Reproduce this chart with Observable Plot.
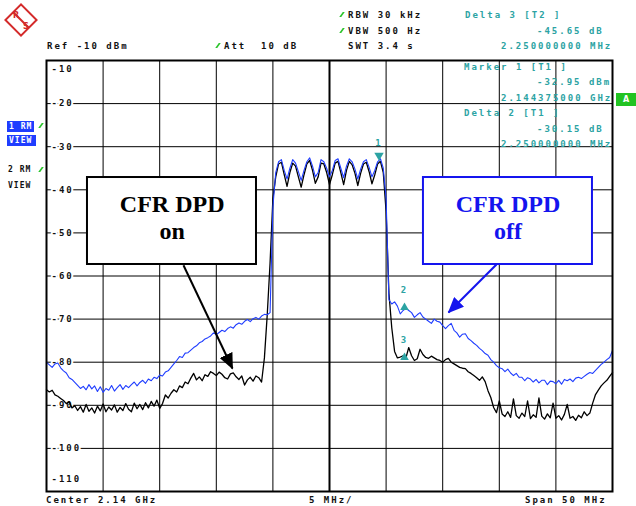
<!DOCTYPE html>
<html>
<head>
<meta charset="utf-8">
<script src="https://cdn.jsdelivr.net/npm/d3@7"></script>
<script src="https://cdn.jsdelivr.net/npm/@observablehq/plot@0.6"></script>
<style>
html,body{margin:0;padding:0;background:#fff;}
#wrap{position:relative;width:636px;height:506px;overflow:hidden;background:#fff;}
#wrap > svg{position:absolute;left:0;top:0;}
.t{position:absolute;font-family:"DejaVu Sans Mono",monospace;font-weight:bold;font-size:9px;letter-spacing:2px;line-height:10px;height:10px;white-space:pre;color:#111;}
.teal{color:#2ca3a3;}
.box{position:absolute;background:#1f3dff;color:#fff;padding-left:2px;font-size:8px;letter-spacing:1px;overflow:hidden;}
.gm{position:absolute;width:2px;height:5px;background:#2bc42b;transform:skewX(-35deg);}
.abox{position:absolute;background:#22c322;color:#fff;font-family:"DejaVu Sans",sans-serif;font-weight:bold;font-size:8px;text-align:center;line-height:13px;}
svg g[font-family="DejaVu Sans Mono"]{letter-spacing:2px;}
</style>
</head>
<body>
<div id="wrap">
  <svg style="position:absolute;left:3px;top:2px" width="36" height="36" viewBox="0 0 36 36">
    <g transform="translate(18,18) rotate(45)">
      <rect x="-11" y="-11" width="22" height="22" fill="none" stroke="#d42a2a" stroke-width="2"/>
      <line x1="-11" y1="0" x2="11" y2="0" stroke="#d42a2a" stroke-width="2"/>
    </g>
    <text x="13" y="16" fill="#d42a2a" font-family="DejaVu Sans" font-size="8" font-weight="bold" text-anchor="middle">R</text>
    <text x="23" y="27" fill="#d42a2a" font-family="DejaVu Sans" font-size="8" font-weight="bold" text-anchor="middle">S</text>
  </svg>

  <div class="t" style="left:47px;top:41px">Ref -10 dBm</div>
  <div class="gm" style="left:217px;top:43px"></div>
  <div class="t" style="left:224px;top:41px">Att  10 dB</div>

  <div class="gm" style="left:341px;top:12px"></div>
  <div class="t" style="left:348px;top:10px">RBW 30 kHz</div>
  <div class="gm" style="left:341px;top:28px"></div>
  <div class="t" style="left:348px;top:26px">VBW 500 Hz</div>
  <div class="t" style="left:348px;top:41px">SWT 3.4 s</div>

  <div class="t teal" style="left:465px;top:10px">Delta 3 [T2 ]</div>
  <div class="t teal" style="left:537px;top:26px">-45.65 dB</div>
  <div class="t teal" style="left:501px;top:41px">2.250000000 MHz</div>

  <div class="t box" style="left:7px;top:121px;width:25px;height:11px;line-height:11px">1 RM</div>
  <div class="gm" style="left:40px;top:123px"></div>
  <div class="t box" style="left:7px;top:135px;width:27px;height:11px;line-height:11px">VIEW</div>
  <div class="t" style="left:8px;top:165px;font-size:8px;letter-spacing:1px">2 RM</div>
  <div class="gm" style="left:40px;top:167px"></div>
  <div class="t" style="left:8px;top:181px;font-size:8px;letter-spacing:1px">VIEW</div>

  <div class="abox" style="left:616px;top:93px;width:20px;height:13px">A</div>

  <div id="chart"></div>

  <div class="t teal" style="left:464px;top:62px">Marker 1 [T1 ]</div>
  <div class="t teal" style="left:537px;top:77px">-32.95 dBm</div>
  <div class="t teal" style="left:501px;top:93px">2.144375000 GHz</div>
  <div class="t teal" style="left:464px;top:108px">Delta 2 [T1 ]</div>
  <div class="t teal" style="left:537px;top:124px">-30.15 dB</div>
  <div class="t teal" style="left:501px;top:139px">2.250000000 MHz</div>

  <div class="t" style="left:46px;top:495px">Center 2.14 GHz</div>
  <div class="t" style="left:309px;top:495px">5 MHz/</div>
  <div class="t" style="left:525px;top:495px">Span 50 MHz</div>
</div>
<script>
// Sweep points: offset from centre (2.14 GHz) in MHz, 0.25 MHz spacing over the 50 MHz span
const freqMHz = d3.range(-25, 25.0001, 0.25);

// Trace 1 (blue): CFR DPD off, dBm
const levelOff = [
  -80, -80.6, -81.2, -80.4, -80.2, -81.3, -82, -82.5, -83.6, -84,
  -84.7, -85.4, -86.1, -85.6, -86.4, -85.2, -86.2, -85.5, -86.8, -85.7,
  -87, -86.1, -86.5, -85.4, -86.7, -85.9, -85.2, -86.3, -85.4, -85.9,
  -85.2, -84.6, -85.5, -84.7, -84.2, -84.9, -83.9, -84.3, -83.5, -83.8,
  -83, -83.2, -82.3, -82, -81.2, -80.4, -79.6, -78.7, -78.9, -77.9,
  -77.8, -77.2, -76.6, -76.2, -75.5, -75.2, -74.6, -74.3, -73.9, -73.2,
  -73.6, -73.1, -72.6, -72.9, -72.2, -71.8, -72.1, -71.3, -70.9, -71.2,
  -70.5, -70.1, -70.6, -69.9, -69.6, -70, -69.3, -68.9, -69, -68.5,
  -44, -36, -33.5, -33, -35.5, -37.5, -35, -33, -33.8, -35.8,
  -37.8, -35.5, -33.5, -32.6, -34.5, -37, -36, -33, -33.5, -35,
  -37, -35.5, -33.2, -32.8, -35, -37.2, -34.5, -32.8, -33.5, -35.2,
  -37.5, -35.2, -33.5, -33, -34.8, -37, -35.5, -33.5, -32.8, -35,
  -42, -65.5, -66.5, -66, -67, -68.8, -68, -67.5, -68, -68.5,
  -69.6, -69, -68.5, -69.5, -70, -70.5, -71, -70, -70.5, -70.7,
  -71.5, -72.2, -71.5, -71, -72.6, -73.2, -74.2, -73.5, -73.4, -74.5,
  -75, -75.6, -76.1, -76.8, -77.3, -78, -78.4, -79.4, -80, -80.8,
  -81.3, -81.5, -82.2, -81.6, -82.5, -83.1, -82.6, -83.5, -83.5, -84.3,
  -83.6, -83.9, -84.6, -84, -84.8, -84.2, -84.2, -85.2, -84.4, -84.5,
  -85, -84.2, -85.1, -84, -84.3, -83.9, -84.5, -83.7, -83.5, -83.8,
  -83.3, -82.8, -82.4, -82.6, -81.9, -81.2, -80.5, -80, -79.4, -78.9,
  -77.3
];

// Trace 2 (black): CFR DPD on, dBm
const levelOn = [
  -86.4, -86.9, -86.5, -87.6, -87.9, -88.4, -88.9, -89.6, -89.2, -90.6,
  -90.1, -91.2, -90.3, -91.6, -89.8, -91.4, -90.6, -91.8, -90.2, -91.3,
  -89.7, -91.5, -90.4, -91.1, -89.9, -91.6, -90.5, -91.2, -89.6, -90.9,
  -91.5, -89.5, -90.8, -89.8, -91, -89.4, -90.6, -89.1, -90.2, -88.8,
  -90.7, -89.6, -87.6, -88.3, -87.2, -86.4, -86.9, -85.5, -85.9, -84.6,
  -85, -83.7, -82.6, -84.1, -83.4, -84.3, -82.9, -83.3, -82.2, -82.6,
  -83.1, -82.3, -82.8, -83.6, -83.9, -82.7, -82.5, -83.4, -84, -83.2,
  -85.3, -84.1, -83.5, -84.4, -83.2, -83.6, -84.6, -79, -69, -57,
  -42, -37, -34, -33.6, -36.5, -39.2, -36, -33.8, -34.5, -37,
  -39.4, -36.5, -34, -33.2, -35.5, -38.5, -37, -33.8, -34, -36,
  -38.8, -36.5, -33.8, -33.4, -36, -38.8, -35.5, -33.4, -34.2, -36.2,
  -39, -36.2, -34, -33.6, -35.8, -38.6, -36.5, -34, -33.4, -36,
  -45, -64, -72, -77.5, -79, -78.8, -78.5, -79, -76.6, -78.5,
  -79.6, -79.2, -77, -78.2, -78.9, -79.1, -78.6, -79, -79.4, -79.6,
  -80, -79.4, -79.1, -80, -80.4, -80.8, -81.2, -81.4, -81.5, -82.2,
  -82.6, -83.1, -83.6, -84.2, -83.4, -84.5, -86.6, -88.2, -90.5, -91.7,
  -89, -92, -92.6, -91.5, -92.8, -88.5, -92.4, -93, -91.8, -92.6,
  -89, -93.1, -92.2, -92.8, -88.3, -92.5, -93.2, -92, -92.9, -89.5,
  -93, -92.4, -93.4, -92.1, -89.8, -93, -92.6, -93.5, -92.3, -92.9,
  -91.5, -92.4, -91.8, -89.5, -87.5, -86.5, -85.5, -84.8, -84.2, -83.3,
  -82.4
];

// Grid / tick values
const xGrid = [-20, -15, -10, -5, 5, 10, 15, 20];
const yGrid = [-20, -30, -40, -50, -60, -70, -80, -90, -100];
const yTickLabels = ["-20", "-30", "-40", "-50", "-60", "-70", "-80", "-90", "-100"];

// Markers
const markerFreq = [4.375, 6.625, 6.625];
const markerLevel = [-32.95, -67.3, -78.9];
const markerName = ["1", "2", "3"];

// Annotations (data units: MHz offset, dBm)
const annotBoxes = [
  {x1: -21.38, x2: -6.45, y1: -37.15, y2: -57.33, color: "#000"},
  {x1: 8.30, x2: 23.23, y1: -37.15, y2: -57.33, color: "#1414ee"}
];
const annotLines = [
  {x: -13.9, y: -45.2, text: "CFR DPD", color: "#000"},
  {x: -13.9, y: -51.3, text: "on", color: "#000"},
  {x: 15.77, y: -45.2, text: "CFR DPD", color: "#1414ee"},
  {x: 15.77, y: -51.3, text: "off", color: "#1414ee"}
];
const annotArrows = [
  {x1: -12.9, y1: -57.5, x2: -8.57, y2: -81.46, color: "#000"},
  {x1: 14.75, y1: -57.33, x2: 10.51, y2: -68.47, color: "#1414ee"}
];

const rows = freqMHz.map((f, i) => ({f, off: levelOff[i], on: levelOn[i]}));
const markers = markerFreq.map((f, i) => ({f, level: markerLevel[i], name: markerName[i]}));

const BLUE = "#1f3dff";
const TEAL = "#2ca3a3";
const MONO = "DejaVu Sans Mono";

function head(color) {
  return d3.create("svg:marker")
    .attr("viewBox", "0 -7 16 14")
    .attr("refX", 15).attr("refY", 0)
    .attr("markerUnits", "userSpaceOnUse")
    .attr("markerWidth", 16).attr("markerHeight", 14)
    .attr("orient", "auto")
    .attr("fill", color).attr("stroke", "none")
    .call(m => m.append("path").attr("d", "M0,-7L16,0L0,7Z"))
    .node();
}

const chart = Plot.plot({
  width: 636,
  height: 506,
  marginLeft: 46,
  marginRight: 24,
  marginTop: 60,
  marginBottom: 15,
  x: {domain: [-25, 25], axis: null},
  y: {domain: [-110, -10], axis: null},
  style: {background: "transparent", overflow: "visible"},
  marks: [
    Plot.ruleY(yGrid, {y: d => d, stroke: "#000", strokeWidth: 1}),
    Plot.ruleX(xGrid, {x: d => d, stroke: "#000", strokeWidth: 1}),
    Plot.ruleX([0], {x: d => d, stroke: "#000", strokeWidth: 2}),
    Plot.text(yGrid, {y: d => d, text: (d, i) => yTickLabels[i], frameAnchor: "left", dx: 5, textAnchor: "start",
      fontFamily: MONO, fontWeight: "bold", fontSize: 9, fill: "#111", stroke: "white", strokeWidth: 4}),
    Plot.text(["-10"], {text: d => d, frameAnchor: "top-left", dx: 5, dy: 9, textAnchor: "start", lineAnchor: "middle",
      fontFamily: MONO, fontWeight: "bold", fontSize: 9, fill: "#111"}),
    Plot.text(["-110"], {text: d => d, frameAnchor: "bottom-left", dx: 5, dy: -12, textAnchor: "start", lineAnchor: "middle",
      fontFamily: MONO, fontWeight: "bold", fontSize: 9, fill: "#111"}),
    Plot.line(rows, {x: "f", y: "on", stroke: "#000", strokeWidth: 1.3}),
    Plot.line(rows, {x: "f", y: "off", stroke: BLUE, strokeWidth: 1.1}),
    Plot.frame({stroke: "#000", strokeWidth: 2}),
    Plot.dot(markers.slice(0, 1), {x: "f", y: "level", symbol: "triangle", r: 3.5, fill: TEAL, rotate: 180, dy: -4}),
    Plot.dot(markers.slice(1), {x: "f", y: "level", symbol: "triangle", r: 3.2, fill: TEAL}),
    Plot.text(markers.slice(0, 1), {x: "f", y: "level", text: "name", dy: -16, fill: TEAL, fontFamily: MONO, fontWeight: "bold", fontSize: 9}),
    Plot.text(markers.slice(1), {x: "f", y: "level", text: "name", dy: -17, fill: TEAL, fontFamily: MONO, fontWeight: "bold", fontSize: 9}),
    Plot.rect(annotBoxes, {x1: "x1", x2: "x2", y1: "y1", y2: "y2", fill: "white", stroke: d => d.color, strokeWidth: 2}),
    Plot.text(annotLines, {x: "x", y: "y", text: "text", fill: d => d.color, lineAnchor: "bottom",
      fontFamily: "Liberation Serif", fontWeight: "bold", fontSize: 24}),
    Plot.link(annotArrows.slice(0, 1), {x1: "x1", y1: "y1", x2: "x2", y2: "y2", stroke: "#000", strokeWidth: 2, markerEnd: () => head("#000")}),
    Plot.link(annotArrows.slice(1), {x1: "x1", y1: "y1", x2: "x2", y2: "y2", stroke: "#1414ee", strokeWidth: 2, markerEnd: () => head("#1414ee")})
  ]
});
document.getElementById("chart").replaceWith(chart);
</script>
</body>
</html>
